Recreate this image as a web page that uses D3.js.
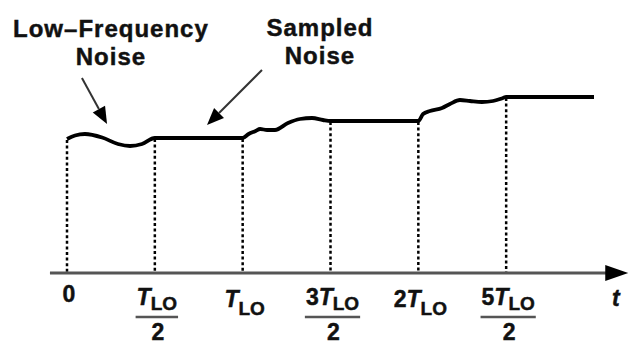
<!DOCTYPE html>
<html><head><meta charset="utf-8">
<script src="https://cdn.jsdelivr.net/npm/d3@7"></script>
<style>
html,body{margin:0;padding:0;background:#fff;}
svg{display:block;}
text{font-family:"Liberation Sans",Arial,Helvetica,sans-serif;font-weight:bold;fill:#111;stroke:#111;stroke-width:0.45px;}
</style></head>
<body>
<svg id="chart" width="629" height="341"></svg>
<script>
// ---- data (time in units of T_LO, amplitude in arbitrary units) ----
const noiseLowFreq = [[0,67],[0.046,68.75],[0.102,69.5],[0.2,67.75],[0.29,64.5],[0.359,63.5],[0.427,64.5],[0.5,67.5]];
const hold1 = [[0.5,67.5],[1.0,67.5]];
const noiseSeg2 = [[1.0,67.5],[1.034,69.5],[1.074,71],[1.099,72],[1.139,71.5],[1.184,71.5],[1.258,75],[1.326,77],[1.395,77.5],[1.457,76.5],[1.5,76]];
const hold2 = [[1.5,76],[2.0,76]];
const noiseSeg3 = [[2.0,76],[2.027,79.5],[2.066,81],[2.135,82.5],[2.18,84.5],[2.237,86.5],[2.294,86],[2.362,85.5],[2.425,86],[2.482,87.5],[2.5,88]];
const hold3 = [[2.5,88],[3.0,88]];
const sampleTimes = [0,0.5,1,1.5,2,2.5];
const tickLabels = [
  {coef:"0", T:false, frac:false},
  {coef:"", T:true, frac:true},
  {coef:"", T:true, frac:false},
  {coef:"3", T:true, frac:true},
  {coef:"2", T:true, frac:false},
  {coef:"5", T:true, frac:true}
];
const annotations = [
  {lines:["Low\u2013Frequency","Noise"], t:0.25, v:118, from:[0.085,97.5], to:[0.228,74.5]},
  {lines:["Sampled","Noise"], t:1.44, v:118.5, from:[1.11,101.5], to:[0.797,74]}
];

const svg = d3.select("#chart");
const x = d3.scaleLinear().domain([0,3]).range([67,594]);
const y = d3.scaleLinear().domain([0,100]).range([273,73]);

const series = [].concat(noiseLowFreq, hold1.slice(1), noiseSeg2.slice(1), hold2.slice(1), noiseSeg3.slice(1), hold3.slice(1));

function valueAt(t){
  for(let i=0;i<series.length;i++){ if(Math.abs(series[i][0]-t)<1e-9) return series[i][1]; }
  return 0;
}

// dotted sampling lines
svg.append("g").selectAll("line").data(sampleTimes).join("line")
  .attr("x1",d=>x(d)).attr("x2",d=>x(d))
  .attr("y1",d=>y(valueAt(d))+1).attr("y2",y(0))
  .attr("stroke","#000").attr("stroke-width",2.5).attr("stroke-dasharray","3,2.6");

// time axis
const axisY = y(0);
svg.append("line").attr("x1",x(-0.097)).attr("x2",x(3.08)).attr("y1",axisY).attr("y2",axisY)
  .attr("stroke","#555").attr("stroke-width",3);
const tip = x(3.195);
svg.append("path").attr("d",`M${tip},${axisY} L${tip-23},${axisY-8} L${tip-23},${axisY+8} Z`).attr("fill","#000");
svg.append("text").attr("x",x(3.125)).attr("y",306).attr("font-size",23).attr("font-style","italic").attr("text-anchor","middle").text("t");

// waveform
const line = d3.line().x(d=>x(d[0])).y(d=>y(d[1])).curve(d3.curveMonotoneX);
svg.append("path").attr("d",line(series)).attr("fill","none").attr("stroke","#000").attr("stroke-width",3.8).attr("stroke-linejoin","round");

// tick labels
const lg = svg.append("g");
tickLabels.forEach((lab,i)=>{
  const cx = x(sampleTimes[i]) + 2;
  const base = lab.frac ? 305 : 307;
  const sub = lab.frac ? 5 : 8;
  const t = lg.append("text").attr("x",cx).attr("y",lab.T ? base : 302).attr("font-size",23).attr("text-anchor","middle");
  if(lab.coef) t.append("tspan").text(lab.coef);
  if(lab.T){
    t.append("tspan").attr("font-style","italic").text("T");
    t.append("tspan").attr("font-size",19).attr("dy",sub).text("LO");
  }
  if(lab.frac){
    const bb = t.node().getBBox();
    lg.append("line").attr("x1",bb.x-1).attr("x2",bb.x+bb.width+1).attr("y1",317).attr("y2",317)
      .attr("stroke","#555").attr("stroke-width",2.5);
    lg.append("text").attr("x",bb.x+bb.width/2+1).attr("y",340).attr("font-size",23).attr("text-anchor","middle").text("2");
  }
});

// annotations
const ag = svg.append("g");
annotations.forEach(a=>{
  a.lines.forEach((s,k)=>{
    ag.append("text").attr("x",x(a.t)).attr("y",y(a.v)+k*28).attr("font-size",24)
      .attr("letter-spacing",1).attr("text-anchor","middle").text(s);
  });
  const x1=x(a.from[0]), y1=y(a.from[1]), x2=x(a.to[0]), y2=y(a.to[1]);
  const ang = Math.atan2(y2-y1,x2-x1), L=17, W=7;
  const bx = x2 - L*Math.cos(ang), by = y2 - L*Math.sin(ang);
  ag.append("line").attr("x1",x1).attr("y1",y1).attr("x2",bx).attr("y2",by).attr("stroke","#333").attr("stroke-width",2);
  const px = -Math.sin(ang)*W, py = Math.cos(ang)*W;
  ag.append("path").attr("d",`M${x2},${y2} L${bx+px},${by+py} L${bx-px},${by-py} Z`).attr("fill","#000");
});
</script>
</body></html>
